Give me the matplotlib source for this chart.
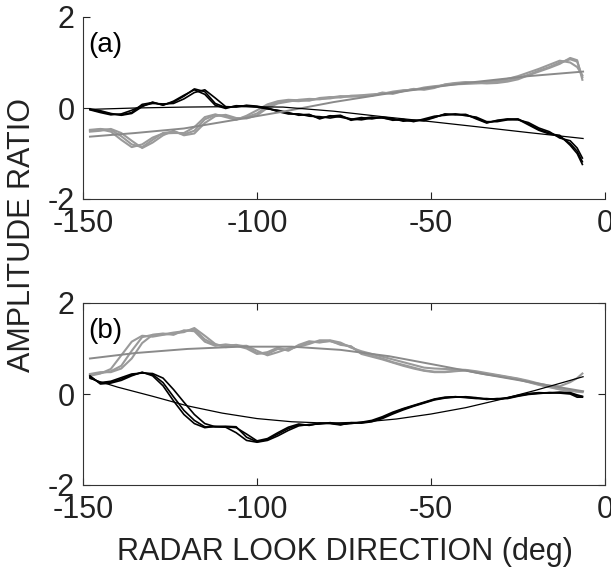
import matplotlib
matplotlib.use("Agg")
import matplotlib.pyplot as plt

plt.rcParams['font.family'] = ['Liberation Sans', 'DejaVu Sans']
plt.rcParams['axes.unicode_minus'] = False

# look direction samples (deg)
x = [-148, -145, -142, -139, -136, -133, -130, -127, -124, -121, -118, -115, -112, -109,
     -106, -103, -100, -97, -94, -91, -88, -85, -82, -79, -76, -73, -70, -67, -64, -61,
     -58, -55, -52, -49, -46, -43, -40, -37, -34, -31, -28, -25, -22, -19, -16, -13, -10,
     -8, -6.5]

# ---- panel (a): black series
a_black_1 = [-0.03, -0.08, -0.13, -0.15, -0.10, 0.08, 0.12, 0.07, 0.13, 0.26, 0.42, 0.36, 0.10, 0.01,
             0.04, 0.05, 0.03, -0.01, -0.06, -0.12, -0.14, -0.15, -0.22, -0.18, -0.16, -0.27, -0.23, -0.20,
             -0.22, -0.25, -0.27, -0.28, -0.26, -0.20, -0.14, -0.14, -0.15, -0.22, -0.32, -0.28, -0.25,
             -0.24, -0.35, -0.47, -0.55, -0.63, -0.78, -0.95, -1.18]
a_black_2 = [-0.04, -0.10, -0.15, -0.13, -0.05, 0.05, 0.10, 0.09, 0.10, 0.20, 0.34, 0.40, 0.22, 0.03,
             0.02, 0.06, 0.04, 0.00, -0.08, -0.13, -0.13, -0.18, -0.19, -0.22, -0.18, -0.24, -0.26, -0.22,
             -0.21, -0.27, -0.25, -0.30, -0.24, -0.18, -0.16, -0.13, -0.17, -0.20, -0.30, -0.30, -0.26,
             -0.26, -0.32, -0.44, -0.52, -0.66, -0.72, -0.88, -1.10]
a_black_3 = [-0.02, -0.06, -0.12, -0.16, -0.12, 0.03, 0.13, 0.06, 0.15, 0.28, 0.40, 0.30, 0.06, -0.01,
             0.05, 0.04, 0.02, -0.02, -0.05, -0.10, -0.16, -0.14, -0.24, -0.17, -0.20, -0.25, -0.21, -0.24,
             -0.20, -0.23, -0.29, -0.27, -0.28, -0.21, -0.13, -0.15, -0.14, -0.24, -0.33, -0.27, -0.24,
             -0.25, -0.37, -0.49, -0.57, -0.60, -0.82, -1.00, -1.24]
# ---- panel (a): gray series
a_gray_1 = [-0.48, -0.46, -0.48, -0.62, -0.80, -0.86, -0.70, -0.55, -0.52, -0.58, -0.50, -0.25, -0.15, -0.17,
            -0.24, -0.20, -0.12, 0.04, 0.12, 0.16, 0.15, 0.18, 0.20, 0.21, 0.25, 0.26, 0.25, 0.28,
            0.33, 0.33, 0.38, 0.41, 0.42, 0.46, 0.51, 0.54, 0.56, 0.56, 0.57, 0.58, 0.60,
            0.66, 0.73, 0.82, 0.90, 1.00, 1.07, 1.02, 0.68]
a_gray_2 = [-0.50, -0.47, -0.52, -0.70, -0.86, -0.80, -0.65, -0.56, -0.55, -0.55, -0.42, -0.20, -0.14, -0.20,
            -0.26, -0.17, -0.05, 0.08, 0.15, 0.18, 0.17, 0.16, 0.22, 0.24, 0.23, 0.27, 0.28, 0.30,
            0.31, 0.36, 0.39, 0.40, 0.45, 0.48, 0.50, 0.52, 0.53, 0.54, 0.56, 0.60, 0.64,
            0.70, 0.78, 0.86, 0.95, 1.04, 1.00, 0.90, 0.72]
a_gray_3 = [-0.52, -0.50, -0.46, -0.55, -0.72, -0.88, -0.76, -0.60, -0.50, -0.60, -0.56, -0.33, -0.18, -0.15,
            -0.22, -0.23, -0.16, 0.00, 0.10, 0.14, 0.18, 0.20, 0.19, 0.23, 0.26, 0.25, 0.27, 0.27,
            0.34, 0.31, 0.37, 0.42, 0.40, 0.44, 0.52, 0.55, 0.57, 0.55, 0.54, 0.55, 0.58,
            0.63, 0.72, 0.80, 0.88, 0.97, 1.10, 1.05, 0.62]
a_fit_black_x = [-148, -135, -121, -107, -92.5, -78, -64, -50, -37, -22, -6.3]
a_fit_black_y = [-0.03, 0.00, 0.02, 0.03, 0.02, -0.07, -0.19, -0.30, -0.41, -0.54, -0.67]
a_fit_gray_x = [-148, -135, -121, -107, -92.5, -78, -64, -50, -38.8, -22, -6.3]
a_fit_gray_y = [-0.63, -0.55, -0.45, -0.27, -0.08, 0.13, 0.30, 0.45, 0.56, 0.70, 0.80]

# ---- panel (b): black series
b_black_1 = [0.38, 0.24, 0.26, 0.33, 0.42, 0.47, 0.43, 0.25, -0.06, -0.36, -0.58, -0.72, -0.72, -0.71,
             -0.72, -0.95, -1.05, -1.00, -0.88, -0.76, -0.68, -0.68, -0.65, -0.64, -0.67, -0.64, -0.63, -0.60,
             -0.52, -0.42, -0.33, -0.26, -0.19, -0.12, -0.08, -0.06, -0.07, -0.09, -0.11, -0.11, -0.09,
             -0.04, 0.00, 0.02, 0.03, 0.03, 0.02, -0.04, -0.06]
b_black_2 = [0.36, 0.25, 0.28, 0.36, 0.44, 0.46, 0.45, 0.35, 0.10, -0.18, -0.45, -0.65, -0.72, -0.73,
             -0.85, -1.02, -1.06, -1.02, -0.92, -0.80, -0.70, -0.67, -0.66, -0.63, -0.66, -0.65, -0.62, -0.58,
             -0.50, -0.40, -0.32, -0.25, -0.18, -0.11, -0.07, -0.06, -0.08, -0.10, -0.10, -0.12, -0.08,
             -0.03, 0.01, 0.03, 0.02, 0.04, 0.03, -0.02, -0.05]
b_black_3 = [0.40, 0.22, 0.24, 0.30, 0.40, 0.48, 0.40, 0.18, -0.15, -0.45, -0.65, -0.74, -0.71, -0.72,
             -0.74, -0.88, -1.03, -0.98, -0.85, -0.73, -0.66, -0.69, -0.64, -0.65, -0.68, -0.63, -0.64, -0.61,
             -0.54, -0.44, -0.35, -0.27, -0.20, -0.13, -0.09, -0.07, -0.06, -0.08, -0.12, -0.10, -0.10,
             -0.05, -0.01, 0.01, 0.03, 0.02, 0.00, -0.07, -0.07]
# ---- panel (b): gray series
b_gray_1 = [0.42, 0.46, 0.50, 0.62, 0.95, 1.25, 1.30, 1.31, 1.35, 1.38, 1.42, 1.20, 1.08, 1.06,
            1.08, 1.04, 0.90, 0.88, 0.99, 0.97, 1.06, 1.14, 1.15, 1.16, 1.10, 1.04, 0.90, 0.84,
            0.78, 0.70, 0.64, 0.58, 0.52, 0.49, 0.49, 0.51, 0.52, 0.48, 0.44, 0.41, 0.37,
            0.33, 0.27, 0.21, 0.16, 0.11, 0.08, 0.06, 0.05]
b_gray_2 = [0.40, 0.45, 0.55, 0.85, 1.15, 1.28, 1.26, 1.30, 1.33, 1.36, 1.45, 1.28, 1.10, 1.03,
            1.05, 1.06, 0.95, 0.85, 0.92, 1.00, 1.04, 1.10, 1.18, 1.18, 1.13, 1.02, 0.94, 0.88,
            0.82, 0.76, 0.70, 0.64, 0.58, 0.56, 0.55, 0.54, 0.53, 0.50, 0.46, 0.42, 0.38,
            0.34, 0.29, 0.23, 0.18, 0.17, 0.26, 0.35, 0.45]
b_gray_3 = [0.44, 0.48, 0.48, 0.56, 0.78, 1.12, 1.30, 1.33, 1.30, 1.40, 1.38, 1.15, 1.06, 1.09,
            1.06, 1.00, 0.88, 0.92, 1.02, 0.95, 1.08, 1.16, 1.13, 1.17, 1.08, 1.05, 0.88, 0.82,
            0.76, 0.69, 0.62, 0.56, 0.51, 0.48, 0.48, 0.50, 0.52, 0.47, 0.43, 0.40, 0.36,
            0.32, 0.26, 0.20, 0.15, 0.10, 0.07, 0.05, 0.04]
# ---- panel (b): fitted curves
b_fit_black_x = [-148, -140, -130, -120, -110, -100, -90, -80, -70, -60, -50, -40, -30, -20, -6.3]
b_fit_black_y = [0.34, 0.15, -0.05, -0.26, -0.42, -0.54, -0.61, -0.64, -0.62, -0.55, -0.44, -0.30, -0.12, 0.08, 0.38]
b_fit_gray_x = [-148, -135, -120, -105, -90, -76, -62, -48, -35, -20, -6.3]
b_fit_gray_y = [0.78, 0.90, 0.99, 1.04, 1.04, 0.97, 0.83, 0.63, 0.44, 0.24, 0.06]

x_ticks = [-150, -100, -50, 0]
y_ticks = [-2, 0, 2]
panel_labels = ['(a)', '(b)']

BLACK = '#000000'
GRAY = '#9a9a9a'
GRAY_FIT = '#8a8a8a'

W, H = 611, 576
fig = plt.figure(figsize=(W / 100, H / 100), dpi=100)
axA = fig.add_axes([83 / W, 1 - 199 / H, 522 / W, 182 / H])
axB = fig.add_axes([83 / W, 1 - 485 / H, 522 / W, 182 / H])

panels = [
    (axA, [a_black_1, a_black_2, a_black_3], [a_gray_1, a_gray_2, a_gray_3],
     (a_fit_black_x, a_fit_black_y), (a_fit_gray_x, a_fit_gray_y)),
    (axB, [b_black_1, b_black_2, b_black_3], [b_gray_1, b_gray_2, b_gray_3],
     (b_fit_black_x, b_fit_black_y), (b_fit_gray_x, b_fit_gray_y)),
]

for i, (ax, blacks, grays, fitk, fitg) in enumerate(panels):
    for g in grays:
        ax.plot(x, g, color=GRAY, lw=1.5, solid_joinstyle='round')
    for k in blacks:
        ax.plot(x, k, color=BLACK, lw=1.2, solid_joinstyle='round')
    ax.plot(fitg[0], fitg[1], color=GRAY_FIT, lw=1.4)
    ax.plot(fitk[0], fitk[1], color=BLACK, lw=0.9)
    ax.set_xlim(-150, 0)
    ax.set_ylim(-2, 2)
    ax.set_xticks(x_ticks)
    ax.set_yticks(y_ticks)
    ax.set_xticklabels([str(v) for v in x_ticks])
    ax.set_yticklabels([str(v) for v in y_ticks])
    ax.tick_params(direction='in', length=5, width=0.8, labelsize=22, colors='#222222')
    ax.tick_params(axis='x', pad=7)
    ax.tick_params(axis='y', pad=6)
    for s in ax.spines.values():
        s.set_linewidth(0.8)
        s.set_color('#333333')
    ax.text(-148.5, 1.38, panel_labels[i], fontsize=20, ha='left', va='center')

axA.spines['top'].set_visible(False)
axA.spines['right'].set_visible(False)
axB.tick_params(top=True, right=True)

fig.text(22 / W, 1 - 235 / H, 'AMPLITUDE RATIO', rotation=90, fontsize=22,
         ha='center', va='center', color='#222222')
fig.text(345 / W, 1 - 552 / H, 'RADAR LOOK DIRECTION (deg)', fontsize=22,
         ha='center', va='center', color='#222222')

fig.savefig('out.png', dpi=100)
